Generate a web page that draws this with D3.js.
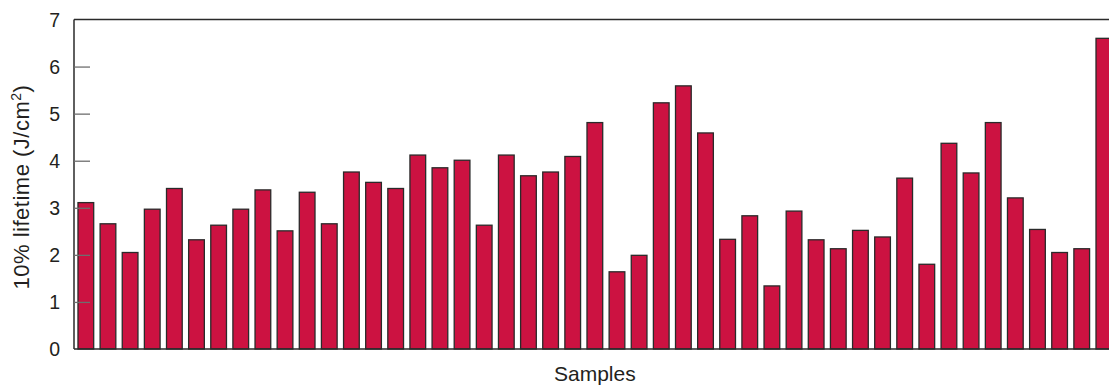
<!DOCTYPE html>
<html>
<head>
<meta charset="utf-8">
<script src="https://cdn.jsdelivr.net/npm/d3@7"></script>
<style>
  html, body { margin: 0; padding: 0; background: #fff; overflow: hidden; }
  svg { display: block; }
  text { font-family: "Liberation Sans", Arial, Helvetica, sans-serif; fill: #231f20; }
</style>
</head>
<body>
<svg id="chart" width="1109" height="385"></svg>
<script>
// 10% lifetime per sample (J/cm2)
var samples = d3.range(1, 48);
var lifetime = [
  3.11, 2.66, 2.05, 2.97, 3.41, 2.32, 2.63, 2.97, 3.38, 2.51,
  3.33, 2.66, 3.76, 3.54, 3.41, 4.12, 3.85, 4.01, 2.63, 4.12,
  3.68, 3.76, 4.09, 4.81, 1.64, 1.99, 5.23, 5.59, 4.59, 2.33,
  2.83, 1.34, 2.93, 2.32, 2.13, 2.52, 2.38, 3.63, 1.80, 4.37,
  3.74, 4.81, 3.21, 2.54, 2.05, 2.13, 6.60
];
var yTicks = [0, 1, 2, 3, 4, 5, 6, 7];

// note: "top" is taken by window.top, so use other names
var plotLeft = 74, plotTop = 19.5, plotBottom = 349, plotRight = 1115.7;

var svg = d3.select('#chart');

var x = d3.scaleBand()
  .domain(samples)
  .range([plotLeft, plotRight])
  .paddingInner(0.29)
  .paddingOuter(0.18);

var y = d3.scaleLinear()
  .domain([0, 7])
  .range([plotBottom, plotTop]);

// bars
svg.append('g').selectAll('rect')
  .data(lifetime)
  .join('rect')
  .attr('x', function(d, i) { return x(samples[i]); })
  .attr('y', function(d) { return y(d); })
  .attr('width', x.bandwidth())
  .attr('height', function(d) { return y(0) - y(d); })
  .attr('fill', '#cc1241')
  .attr('stroke', '#2a2a2a')
  .attr('stroke-width', 1.3);

// frame: left, top, bottom
var frame = svg.append('g').attr('stroke', '#2a2a2a').attr('stroke-width', 1.5);
frame.append('line').attr('x1', plotLeft).attr('x2', plotLeft).attr('y1', plotTop).attr('y2', plotBottom);
frame.append('line').attr('x1', plotLeft).attr('x2', 1109).attr('y1', plotTop).attr('y2', plotTop);
frame.append('line').attr('x1', plotLeft).attr('x2', 1109).attr('y1', plotBottom).attr('y2', plotBottom);

// y axis, ticks pointing inward
var yAxis = d3.axisRight(y)
  .tickValues(yTicks)
  .tickSize(16)
  .tickFormat('');
var ya = svg.append('g')
  .attr('transform', 'translate(' + plotLeft + ',0)')
  .call(yAxis);
ya.select('.domain').remove();
ya.selectAll('.tick line')
  .attr('stroke', '#6e6e6e')
  .attr('stroke-width', 1.3)
  .filter(function(d) { return d === 0 || d === 7; }).remove();

svg.append('g').selectAll('text')
  .data(yTicks)
  .join('text')
  .attr('x', 60)
  .attr('y', function(d) { return y(d); })
  .attr('dy', '0.36em')
  .attr('text-anchor', 'end')
  .style('font-size', '19.5px')
  .text(function(d) { return d; });

// axis titles
svg.append('text')
  .attr('transform', 'translate(29,187) rotate(-90)')
  .attr('text-anchor', 'middle')
  .style('font-size', '22px')
  .style('letter-spacing', '0.5px')
  .html('10% lifetime (J/cm<tspan dy="-8" style="font-size:14px">2</tspan><tspan dy="8">)</tspan>');

svg.append('text')
  .attr('x', (plotLeft + plotRight) / 2)
  .attr('y', 381)
  .attr('text-anchor', 'middle')
  .style('font-size', '21px')
  .text('Samples');
</script>
</body>
</html>
